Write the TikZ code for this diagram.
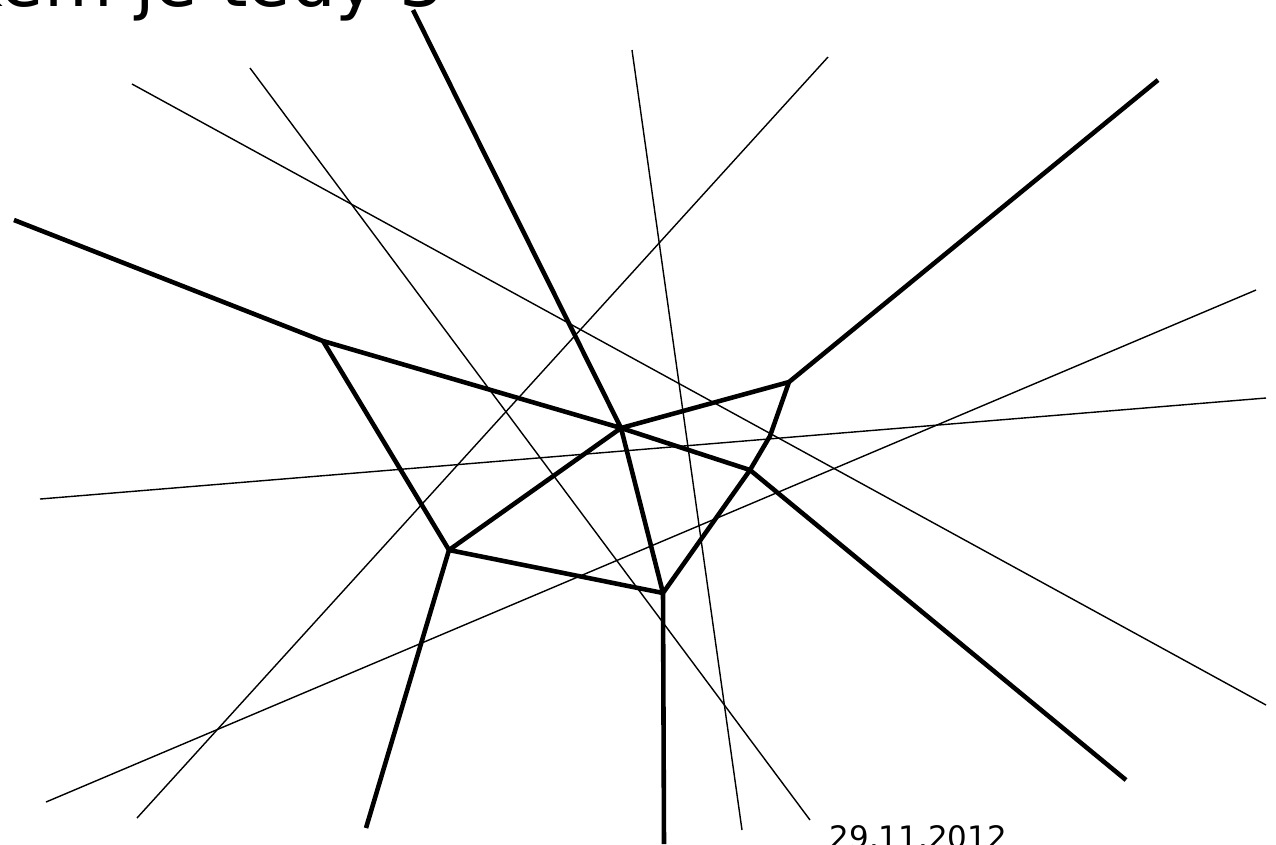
\documentclass[tikz,border=0pt]{standalone}
\usepackage{fontspec}
\newfontfamily\slidefont{DejaVu Sans}
\usetikzlibrary{calc}

\tikzset{
  edge/.style={line width=1.3pt,line join=round},
  bisector/.style={line width=0.4pt},
}

\begin{document}
\begin{tikzpicture}[x=0.01cm,y=-0.01cm]
        \useasboundingbox (0,0) rectangle (1276,844);
        \begin{scope}
        \clip (0,0) rectangle (1276,844);
        % title, cut by the top edge
        \node[anchor=base west,inner sep=0pt,font=\slidefont\fontsize{20}{24}\selectfont] (title) at (-38,6) {kem je tedy 3};
        % date, cut by the bottom edge
        \node[anchor=base west,inner sep=0pt,font=\slidefont\fontsize{8.8}{10}\selectfont] (date) at (829,848) {29.11.2012};
        \end{scope}
        % thin lines
        \draw[bisector] (132,84) -- (1266,705);
        \draw[bisector] (250,68) -- (810,820);
        \draw[bisector] (632,50) -- (742,830);
        \draw[bisector] (828,57) -- (137,818);
        \draw[bisector] (40,499) -- (1266,398);
        \draw[bisector] (46,802) -- (1256,290);
        % vertices
        \coordinate (a) at (323,341);
        \coordinate (b) at (621,428);
        \coordinate (c) at (789,382);
        \coordinate (d) at (750,470);
        \coordinate (e) at (449,550);
        \coordinate (f) at (663,593);
        % free ends
        \coordinate (a0) at (14,220);
        \coordinate (b0) at (413,10);
        \coordinate (c0) at (1158,80);
        \coordinate (d0) at (1126,780);
        \coordinate (e0) at (366,828);
        \coordinate (f0) at (664,844);
        \draw[edge] (a0) -- (a) -- (b) -- (b0);
        \draw[edge] (a) -- (e) -- (f) -- (b) -- (e);
        \draw[edge] (b) -- (c) -- (c0);
        \draw[edge] (b) -- (d) -- (d0);
        \draw[edge] (c) -- (770,436) -- (d) -- (f) -- (f0);
        \draw[edge] (e) -- (e0);
      \end{tikzpicture}
\end{document}
